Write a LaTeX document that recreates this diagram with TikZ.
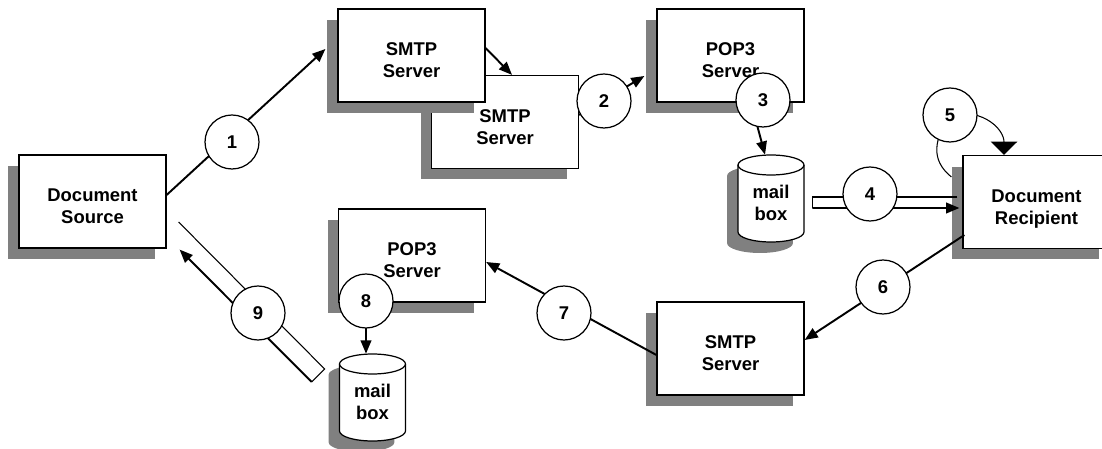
\documentclass[tikz,border=0pt]{standalone}
\usepackage{fontspec}
\setmainfont{Liberation Sans}
\usetikzlibrary{arrows.meta,calc,shadows}
\definecolor{shadowgray}{RGB}{128,128,128}

% mail box drawn as a cylinder: name, x, y, text
\newcommand{\mailcan}[4]{%
  \begin{scope}[shift={(#2,#3)}]
    \fill[shadowgray,shift={(-11,11)}] (-33,-33.5) -- (-33,33.5) arc[start angle=180,end angle=360,x radius=0.66cm,y radius=0.2cm] -- (33,-33.5) arc[start angle=0,end angle=180,x radius=0.66cm,y radius=0.2cm] -- cycle;
    \draw[fill=white,line width=0.7pt] (-33,-33.5) -- (-33,33.5) arc[start angle=180,end angle=360,x radius=0.66cm,y radius=0.2cm] -- (33,-33.5) arc[start angle=0,end angle=180,x radius=0.66cm,y radius=0.2cm] -- cycle;
    \draw[line width=0.7pt] (-33,-33.5) arc[start angle=180,end angle=360,x radius=0.66cm,y radius=0.2cm];
  \end{scope}
  \node at (#2,#3) (#1) [mbox] {#4};}

\begin{document}
\begin{tikzpicture}[x=0.02cm,y=-0.02cm]
    \tikzstyle{every node}=[font=\bfseries\fontsize{10.5}{12.5}\selectfont,align=center];
    \tikzstyle{box}=[draw,fill=white,line width=0.7pt,minimum width=2.94cm,minimum height=1.86cm,
      text height=25.5pt,text depth=0pt,
      drop shadow={shadow xshift=-0.22cm,shadow yshift=-0.22cm,fill=shadowgray,opacity=1}];
    \tikzstyle{mbox}=[inner sep=0pt,minimum width=1.32cm,minimum height=1.74cm,text height=25.5pt,text depth=0pt];
    \tikzstyle{stepnum}=[draw,fill=white,circle,line width=0.7pt,minimum size=1.08cm,inner sep=0pt];
    \tikzstyle{conn}=[line width=1.1pt,-{Triangle[length=7.5pt,width=6pt]}];
    \tikzstyle{thinline}=[line width=0.6pt];
    \useasboundingbox (0,0) rectangle (1102,449);
    \clip (0,0) rectangle (1102,449);

    \node at (92.5, 201.5)  (doc)   [box] {Document\\Source};
    \node at (505, 122)     (smtpb) [box] {SMTP\\Server};
    \node at (411.5, 55.5)  (smtpa) [box] {SMTP\\Server};
    \node at (730.5, 55.5)  (popa)  [box] {POP3\\Server};
    \node at (1036.5, 202)  (rcpt)  [box] {Document\\Recipient};
    \node at (730.5, 348.5) (smtpc) [box] {SMTP\\Server};
    \node at (412, 255.5)   (popb)  [box] {POP3\\Server};
    \mailcan{mboxa}{771}{198.5}{mail\\box}
    \mailcan{mboxb}{372.5}{397.5}{mail\\box}

    \draw[conn] ($(doc.east)+(0,-6.5)$) to ($(smtpa.west)+(-12,-6.5)$);
    \draw[conn] ($(smtpa.east)+(0,-7.5)$) to ($(smtpb.north)+(7,0)$);
    \draw[conn] ($(smtpb.east)+(0,-7)$) to ($(popa.west)+(-12,20.5)$);
    \draw[conn] ($(popa.south)+(20.5,0)$) to ($(mboxa.north)+(-6,0)$);
    \draw[thinline] ($(rcpt.west)+(-5,-5)$) -- ($(mboxa.east)+(8,-1.5)$) -- ($(mboxa.east)+(8,9.5)$);
    \draw[conn] ($(mboxa.east)+(8,9.5)$) to ($(rcpt.west)+(-3,6)$);
    \draw[thinline,-{Triangle[length=7.5pt,width=15pt]}] ($(rcpt.west)+(-11,-25)$) .. controls +(-22,-18) and +(-15,25) .. ($(rcpt.north)+(-86.5,-41)$) .. controls +(35,-5) and +(0,-25) .. ($(rcpt.north)+(-32.5,0)$);
    \draw[conn] ($(rcpt.west)+(2,33)$) to ($(smtpc.east)+(0,-8.5)$);
    \draw[conn] ($(smtpc.west)+(0,6.5)$) to ($(popb.east)+(0,6.5)$);
    \draw[conn] ($(popb.south)+(-46,0)$) to ($(mboxb.north)+(-6.5,0)$);
    \draw[thinline] ($(doc.east)+(12,20.5)$) -- ($(mboxb.west)+(-14.5,-28.5)$) -- ($(mboxb.west)+(-27.5,-15.5)$);
    \draw[conn] ($(mboxb.west)+(-27.5,-15.5)$) to ($(doc.south east)+(13,1)$);

    \node at (232, 142) (n1) [stepnum] {1};
    \node at (604, 101) (n2) [stepnum] {2};
    \node at (763, 100) (n3) [stepnum] {3};
    \node at (870, 194) (n4) [stepnum] {4};
    \node at (950, 115) (n5) [stepnum] {5};
    \node at (883, 287) (n6) [stepnum] {6};
    \node at (564, 313) (n7) [stepnum] {7};
    \node at (366, 301) (n8) [stepnum] {8};
    \node at (258, 313) (n9) [stepnum] {9};
\end{tikzpicture}
\end{document}
